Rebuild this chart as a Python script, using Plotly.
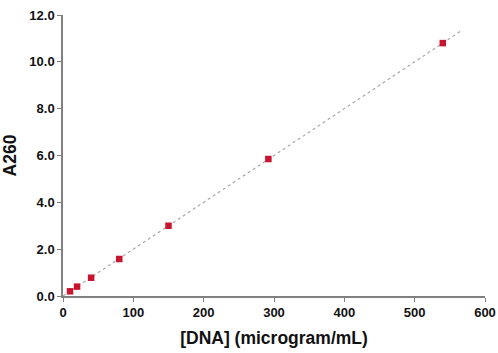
import plotly.graph_objects as go

dna = [10, 20, 40, 80, 150, 292, 540]
a260 = [0.2, 0.4, 0.78, 1.58, 3.0, 5.85, 10.8]
fit_x = [0, 567]
fit_y = [0.0, 11.34]
x_ticks = [0, 100, 200, 300, 400, 500, 600]
y_ticks = [0, 2, 4, 6, 8, 10, 12]

fig = go.Figure()
fig.add_trace(go.Scatter(x=fit_x, y=fit_y, mode="lines",
                         line=dict(color="#a8a8a8", width=1.2, dash="dot"),
                         hoverinfo="skip", showlegend=False))
fig.add_trace(go.Scatter(x=dna, y=a260, mode="markers",
                         marker=dict(symbol="square", size=6.5, color="#c8142e"),
                         showlegend=False))

font = "Liberation Sans, Arial, sans-serif"
fig.update_layout(
    width=498, height=353,
    margin=dict(l=63, r=13, t=15, b=57, autoexpand=False),
    plot_bgcolor="white", paper_bgcolor="white",
    font=dict(family=font, color="#111"),
)
fig.update_xaxes(range=[0, 600], tickvals=x_ticks, ticktext=[f"<b>{v}</b>" for v in x_ticks],
                 showgrid=False, zeroline=False, showline=True, linecolor="#808080",
                 linewidth=1.5, ticks="outside", ticklen=4, tickcolor="#808080",
                 tickfont=dict(size=13, family=font), automargin=False,
                 title=dict(text="<b>[DNA] (microgram/mL)</b>", font=dict(size=17.5, family=font), standoff=12))
fig.update_yaxes(range=[0, 12], tickvals=y_ticks, ticktext=[f"<b>{v:.1f}</b>" for v in y_ticks],
                 showgrid=False, zeroline=False, showline=True, linecolor="#808080",
                 linewidth=1.5, ticks="outside", ticklen=4, tickcolor="#808080",
                 tickfont=dict(size=13, family=font), automargin=False,
                 title=dict(text="<b>A260</b>", font=dict(size=17.5, family=font), standoff=8))

fig.write_html("out.html")
